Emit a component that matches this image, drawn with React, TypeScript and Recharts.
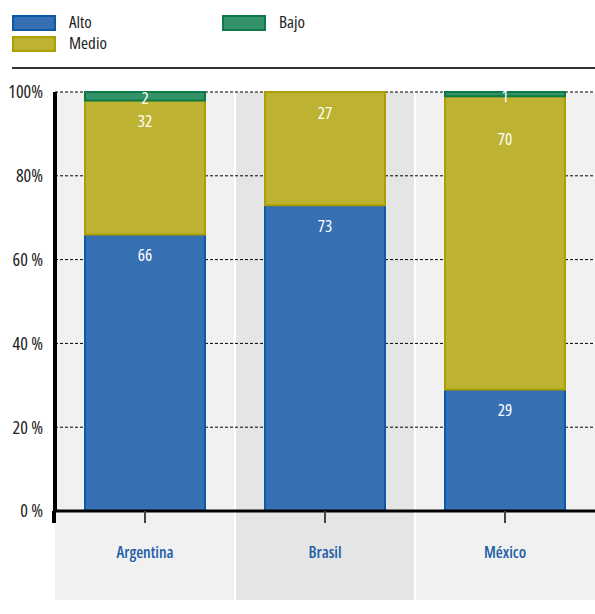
import React from 'react';
import { BarChart, Bar, XAxis, YAxis, CartesianGrid, ReferenceArea, LabelList } from 'recharts';

const categories = ['Argentina', 'Brasil', 'México'];
const alto = [66, 73, 29];
const medio = [32, 27, 70];
const bajo = [2, 0, 1];
const yTicks = [0, 20, 40, 60, 80, 100];
const yTickLabels = ['0 %', '20 %', '40 %', '60 %', '80%', '100%'];
const seriesNames = ['Alto', 'Medio', 'Bajo'] as const;

const data = categories.map((c, i) => ({ name: c, Alto: alto[i], Medio: medio[i], Bajo: bajo[i] }));

const FONT = '"Open Sans", "DejaVu Sans", sans-serif';
const STRETCH = '75%';
const bandFill = ['#f1f1f1', '#e4e5e5', '#f1f1f1'];

const COLORS: any = {
  Alto: { fill: '#3670b3', stroke: '#0a5aa8' },
  Medio: { fill: '#bdb232', stroke: '#aba000' },
  Bajo: { fill: '#34926a', stroke: '#0b7a46' },
};

const BandShape = (props: any) => {
  const { x, y, width, height, idx } = props;
  return (
    <g>
      <rect x={x + (idx === 0 ? 0 : 1)} y={y} width={width - (idx === 0 ? 1 : 2) + (idx === 2 ? 1 : 0)} height={height + 89} fill={bandFill[idx]} />
      {idx === 0 && <line x1={x - 1} x2={x - 1} y1={y + height} y2={y + height + 12} stroke="#000" strokeWidth={4} />}
    </g>
  );
};

const LegendBlock = () => {
  const items = [
    { key: 'Alto', left: 12, top: 15 },
    { key: 'Medio', left: 12, top: 36 },
    { key: 'Bajo', left: 222, top: 15 },
  ];
  return (
    <div style={{ position: 'absolute', left: 0, top: 0, width: 595, height: 70, fontFamily: FONT, fontStretch: STRETCH }}>
      {items.map((it) => (
        <div key={it.key}>
          <div
            style={{
              position: 'absolute', left: it.left, top: it.top, width: 40, height: 12,
              background: COLORS[it.key].fill, border: `2px solid ${COLORS[it.key].stroke}`,
            }}
          />
          <div style={{ position: 'absolute', left: it.left + 57, top: it.top - 3, fontSize: 17, color: '#222', lineHeight: '20px' }}>
            {it.key}
          </div>
        </div>
      ))}
      <div style={{ position: 'absolute', left: 12, top: 67, width: 583, height: 2, background: '#333' }} />
    </div>
  );
};

const makeLabel = (series: string) => (props: any) => {
  const { x, y, width, height, value, index } = props;
  if (!value) return null;
  let cy = y + 20;
  if (series === 'Bajo') cy = y + height / 2 + 1;
  if (series === 'Medio' && bajo[index] > 0 && bajo[index] < 2) cy = y + 42;
  return (
    <text x={x + width / 2} y={cy} fill="#fff" fontSize={17} fontFamily={FONT} style={{ fontStretch: STRETCH }} textAnchor="middle" dominantBaseline="central">
      {value}
    </text>
  );
};

export default function App() {
  return (
    <div style={{ position: 'absolute', left: 0, top: 0, width: 595, height: 614, background: '#fff' }}>
      <LegendBlock />
      <div style={{ position: 'absolute', left: 0, top: 0 }}>
        <BarChart width={595} height={614} data={data} margin={{ top: 92, right: 0, bottom: 14, left: 0 }} barSize={120}>
          {categories.map((c, i) => (
            <ReferenceArea key={c} x1={c} x2={c} y1={0} y2={100} ifOverflow="visible" zIndex={-200} shape={(p: any) => <BandShape {...p} idx={i} />} />
          ))}
          <CartesianGrid vertical={false} horizontal stroke="#000" strokeDasharray="3 2" strokeWidth={1} zIndex={-50} />
          <XAxis
            dataKey="name"
            height={89}
            axisLine={{ stroke: '#000', strokeWidth: 3 }}
            tickLine={{ stroke: '#444', strokeWidth: 2 }}
            tickSize={12}
            tick={{ fill: '#1f5fa8', fontSize: 16, fontFamily: FONT, dy: 22, fontWeight: 600, style: { fontStretch: STRETCH } }}
            interval={0}
          />
          <YAxis
            width={55}
            domain={[0, 100]}
            ticks={yTicks}
            tickFormatter={(v: number) => yTickLabels[yTicks.indexOf(v)]}
            axisLine={{ stroke: '#000', strokeWidth: 4 }}
            tickLine={false}
            tickMargin={6}
            tick={{ fill: '#222', fontSize: 18, fontFamily: FONT, style: { fontStretch: STRETCH } }}
          />
          {seriesNames.map((s) => (
            <Bar key={s} dataKey={s} stackId="a" fill={COLORS[s].fill} stroke={COLORS[s].stroke} strokeWidth={2} isAnimationActive={false}>
              <LabelList dataKey={s} content={makeLabel(s)} />
            </Bar>
          ))}
        </BarChart>
      </div>
    </div>
  );
}
